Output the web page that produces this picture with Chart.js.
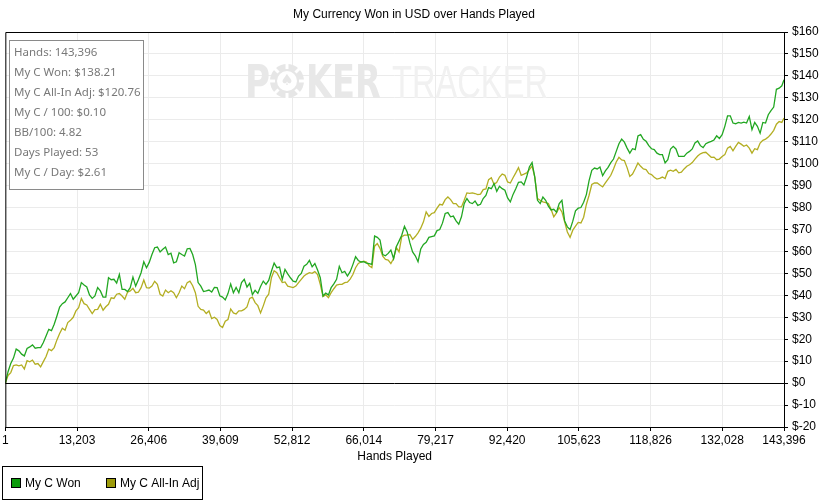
<!DOCTYPE html>
<html>
<head>
<meta charset="utf-8">
<script src="https://cdn.jsdelivr.net/npm/chart.js@4"></script>
<style>
  body { margin: 0; background: #fff; }
  #wrap { width: 828px; height: 503px; }
</style>
</head>
<body>
<div id="wrap"><canvas id="graph" width="828" height="503"></canvas></div>
<script>
// values, one sample every 500 hands (last = final hand)
const myCWon = [
  0, 5.2, 8.9, 11.4, 15.5, 14.7, 13.2, 12.4, 15.8, 16.5,
  17.4, 15.9, 16.2, 16.2, 18.5, 21.5, 24.5, 23.9, 26.8, 30.6,
  34.7, 36.2, 37, 38.9, 40.8, 38.2, 39.7, 41.2, 45.8, 44.7,
  43.8, 40.2, 38.6, 39.7, 43.5, 42, 39.2, 39.2, 48, 47.1,
  47.3, 45.6, 49.5, 42.7, 42.7, 41.7, 43.5, 48.3, 44.2, 47.1,
  50.3, 55.3, 52.6, 55, 58.6, 61.7, 62, 59.8, 61, 62,
  58.6, 59.2, 54.8, 55.3, 59.4, 58.6, 57.9, 61.2, 61.4, 58.6,
  54, 45.8, 44.2, 41.7, 42, 42.4, 41.5, 43.6, 43.5, 39.8,
  39.2, 37.9, 40.8, 45.2, 41.2, 43.6, 41.2, 45.8, 47.3, 43.8,
  45.5, 40.3, 42.3, 40.9, 44, 46.5, 45, 46.8, 51, 54.7,
  52.6, 52.9, 47.3, 51.8, 49.8, 48, 46.5, 46.1, 48.8, 50,
  53.3, 54.1, 55.9, 53, 54.5, 51.5, 48, 39.7, 41, 40.2,
  43.5, 45.2, 47.3, 53.2, 50.3, 50.9, 48.8, 50.8, 54, 57.6,
  55.9, 55.2, 55.3, 54.7, 54.4, 54.1, 67, 66.4, 65.2, 58.6,
  58, 59.1, 60.6, 56.7, 62.1, 64.7, 67.4, 71.5, 68.9, 63.9,
  59.8, 58, 55.3, 61.1, 63.2, 64.2, 66.4, 66.8, 67.1, 69.5,
  70, 72.9, 77.3, 77.7, 75.8, 76.1, 73.9, 72.4, 75.8, 81.8,
  84.1, 82.3, 81.8, 83, 81, 81.5, 84.1, 85.5, 89.1, 88.6,
  90.9, 87.4, 89.7, 88.6, 87.9, 84.4, 82.6, 86, 88.6, 91.5,
  91.7, 90.3, 93.9, 98.5, 100.5, 93.9, 83.3, 81.8, 84.8, 83.3,
  80.6, 78.9, 79.2, 77.9, 81.8, 83.3, 73.9, 71.2, 70, 73.8,
  78.5, 79.7, 80, 82.4, 85.9, 92.3, 97, 98, 97.6, 98.5,
  94.5, 96.7, 98.3, 100.5, 102.1, 105.6, 109.1, 111.2, 109.8, 107.1,
  104.8, 106.8, 106.4, 112.6, 113.2, 111.1, 110.2, 108.2, 106.8, 106.4,
  104.8, 104.1, 104.1, 100.3, 101.8, 106.7, 107.9, 106.7, 103.3, 103.3,
  103.3, 104.8, 105.6, 106.7, 109.4, 110.3, 108.2, 107.3, 109.1, 109.7,
  110.2, 110.8, 112.7, 111.5, 113.2, 117, 121.8, 121.8, 118.5, 118.2,
  118.8, 118.5, 118.9, 118.5, 121.5, 115.5, 118.8, 117, 113.9, 118.8,
  118.5, 122.3, 124.2, 125.8, 133.9, 134.4, 135.5, 138.21
];
const myCAllInAdj = [
  0, 3.5, 4.8, 8, 8.3, 7.9, 8.3, 6.4, 10.2, 9.7,
  10.5, 8.6, 8.9, 7.4, 9.8, 12.1, 15.5, 14.8, 16.2, 19.7,
  22.6, 25, 24.1, 27.6, 28.6, 30, 32.9, 34.4, 38.6, 36.2,
  35.6, 33.6, 31.7, 33.5, 33.6, 35.9, 33.2, 34.8, 35.9, 38.9,
  38.6, 40.5, 40.8, 39.7, 38.2, 41.4, 42, 43.2, 41.2, 41.4,
  43.5, 47, 43.5, 43.3, 44.2, 46.4, 45, 40.5, 39.7, 42.4,
  41.2, 42.1, 41.2, 38.9, 41.2, 44.2, 43, 45.8, 46.5, 44.4,
  41.2, 35, 33.6, 33.3, 31.7, 32.9, 29.4, 30, 29, 26.2,
  25.3, 28.2, 29, 33.8, 32, 31.5, 32.9, 32.9, 33.6, 34.7,
  38.6, 39.2, 36.7, 35.3, 32, 35.2, 38.9, 40.5, 48, 51.2,
  50.3, 48, 45.8, 46.1, 44.2, 43.9, 43.5, 44.2, 45.8, 47.3,
  48.8, 49.7, 50.3, 50, 50.8, 49.5, 45, 39.5, 40.2, 38.9,
  41.2, 43, 44.7, 45, 45, 45.8, 46, 47.4, 49.5, 52.6,
  54.5, 55.2, 55.6, 55.2, 53.5, 52.6, 62.4, 63.6, 61.4, 57.9,
  56.4, 56.1, 54.5, 56.8, 61.8, 59.8, 66.7, 67.4, 67.4, 67.7,
  65.5, 66.8, 68.5, 70.6, 73.5, 78, 76, 77.3, 77.7, 79.7,
  81.5, 81.2, 83.6, 84.8, 83.6, 81.8, 81.8, 80.3, 80.3, 83.3,
  86.7, 86.5, 86.7, 86.4, 85.9, 86.1, 88.2, 88.5, 92.7, 93.6,
  90.5, 91.5, 93.9, 95.3, 94.7, 91.7, 91.2, 93.6, 95.8, 98.2,
  94.7, 95.2, 95.8, 97.3, 98.9, 93.9, 84.1, 83.3, 82.6, 82.3,
  81.8, 79.2, 75.8, 77.6, 80, 78, 73.5, 68.9, 66.4, 69.7,
  71.5, 73.2, 73, 75.6, 81.4, 85.6, 90.5, 91.2, 91.2, 90.3,
  89.4, 91.2, 93, 94.7, 97.6, 100.8, 102.9, 101.7, 101.4, 98.2,
  94.2, 95.3, 97.7, 100.3, 98.8, 97.6, 97.3, 95.5, 95, 93.8,
  93, 93.3, 93.9, 93.2, 96.5, 97, 96.5, 97.4, 95.8, 96.1,
  97.6, 98.8, 99.5, 100.5, 102.1, 103.5, 104.5, 105, 105.2, 104.1,
  102.9, 103, 101.8, 102.1, 103.3, 104.1, 107.1, 107.9, 105.9, 107.9,
  109.7, 108.9, 107.9, 108.5, 107.1, 104.8, 106.8, 106.4, 109.4, 110.6,
  111.2, 112.1, 113.5, 115.2, 118, 119.2, 118.8, 120.76
];
const totalHands = 143396;
const sampleStep = 500;
const hands = myCWon.map((_, i) => i === myCWon.length - 1 ? totalHands : Math.max(1, i * sampleStep));

const xTicks = [1, 13203, 26406, 39609, 52812, 66014, 79217, 92420, 105623, 118826, 132028, 143396];
const yMin = -20, yMax = 160, yStep = 10;

const seriesNames = ['My C Won', 'My C All-In Adj'];
const lineColors = ['#22a722', '#b3ae22'];
const legendColors = ['#0b9b0b', '#9d9b0b'];

const statsLines = [
  'Hands: 143,396',
  'My C Won: $138.21',
  'My C All-In Adj: $120.76',
  'My C / 100: $0.10',
  'BB/100: 4.82',
  'Days Played: 53',
  'My C / Day: $2.61'
];

const FONT = '"Liberation Sans", Arial, sans-serif';
Chart.defaults.font.family = FONT;
Chart.defaults.font.size = 12;
Chart.defaults.color = '#000';

// watermark behind the lines
const watermark = {
  id: 'watermark',
  beforeDatasetsDraw(chart) {
    const c = chart.ctx;
    c.save();
    const base = 98;
    function stretch(text, x, w, font, color) {
      c.font = font;
      c.fillStyle = color;
      const m = c.measureText(text).width;
      c.save();
      c.translate(x, base);
      c.scale(w / m, 1);
      c.fillText(text, 0, 0);
      c.restore();
    }
    c.textBaseline = 'alphabetic';
    stretch('P', 245, 25, 'bold 47px "DejaVu Sans"', '#e8e8e8');
    // chip
    c.beginPath();
    c.arc(287, 81, 17, 0, Math.PI * 2);
    c.fillStyle = '#e6e6e6';
    c.fill();
    c.strokeStyle = '#fff';
    c.lineWidth = 3;
    for (let i = 0; i < 8; i++) {
      const a = i * Math.PI / 4;
      c.beginPath();
      c.moveTo(287 + Math.cos(a) * 12, 81 + Math.sin(a) * 12);
      c.lineTo(287 + Math.cos(a) * 18, 81 + Math.sin(a) * 18);
      c.stroke();
    }
    c.beginPath();
    c.arc(287, 81, 10, 0, Math.PI * 2);
    c.fillStyle = '#fff';
    c.fill();
    c.font = '15px "DejaVu Sans"';
    c.fillStyle = '#e6e6e6';
    c.textAlign = 'center';
    c.textBaseline = 'middle';
    c.fillText('\u2660', 287, 81);
    c.textAlign = 'left';
    c.textBaseline = 'alphabetic';
    stretch('KER', 306, 75, 'bold 47px "DejaVu Sans"', '#e8e8e8');
    stretch('TRACKER', 392, 156, '47px "Liberation Sans"', '#f1f1f1');
    c.restore();
  }
};

const extras = {
  id: 'extras',
  afterDraw(chart) {
    const c = chart.ctx;
    const a = chart.chartArea;
    c.save();
    // top / left border of the plot
    c.strokeStyle = '#000';
    c.lineWidth = 1;
    c.beginPath();
    c.moveTo(a.left + 0.5, a.bottom);
    c.lineTo(a.left + 0.5, a.top + 0.5);
    c.lineTo(a.right, a.top + 0.5);
    c.stroke();

    // title
    c.fillStyle = '#000';
    c.font = '12px ' + FONT;
    c.textAlign = 'center';
    c.textBaseline = 'middle';
    c.fillText('My Currency Won in USD over Hands Played', 414, 15);
    c.fillText('Hands Played', (a.left + a.right) / 2, 457);

    // stats box
    c.fillStyle = '#fff';
    c.fillRect(9.5, 40.5, 134, 149);
    c.strokeStyle = '#8a8a8a';
    c.strokeRect(9.5, 40.5, 134, 149);
    c.fillStyle = '#787878';
    c.font = '11.5px "Noto Sans", "Open Sans", sans-serif';
    c.textAlign = 'left';
    statsLines.forEach((t, i) => c.fillText(t, 14, 53 + i * 20));

    // legend
    c.strokeStyle = '#000';
    c.strokeRect(2.5, 466.5, 200, 33);
    c.font = '12px ' + FONT;
    const lx = [11, 106];
    seriesNames.forEach((name, i) => {
      c.fillStyle = legendColors[i];
      c.fillRect(lx[i] + 0.5, 478.5, 9, 9);
      c.strokeStyle = '#000';
      c.strokeRect(lx[i] + 0.5, 478.5, 9, 9);
      c.fillStyle = '#000';
      c.fillText(name, lx[i] + 14, 483.5);
    });
    c.restore();
  }
};

const ctx = document.getElementById('graph').getContext('2d');
const graph = new Chart(ctx, {
  type: 'line',
  data: {
    labels: hands,
    datasets: [
      { label: seriesNames[0], data: myCWon, borderColor: lineColors[0], borderWidth: 1.3, pointRadius: 0, tension: 0 },
      { label: seriesNames[1], data: myCAllInAdj, borderColor: lineColors[1], borderWidth: 1.3, pointRadius: 0, tension: 0 }
    ]
  },
  options: {
    responsive: false,
    animation: false,
    devicePixelRatio: 1,
    layout: { padding: { left: 3, top: 32, right: 0, bottom: 0 } },
    plugins: { legend: { display: false }, tooltip: { enabled: false }, title: { display: false } },
    scales: {
      x: {
        type: 'linear',
        min: 1,
        max: totalHands,
        afterBuildTicks: s => { s.ticks = xTicks.map(v => ({ value: v })); },
        afterFit: s => { s.height = 76; },
        ticks: {
          autoSkip: false,
          maxRotation: 0,
          padding: 2,
          callback: v => v.toLocaleString('en-US')
        },
        grid: { color: '#ebebeb', tickColor: '#000', tickLength: 4 },
        border: { color: '#000', width: 1 }
      },
      y: {
        position: 'right',
        min: yMin,
        max: yMax,
        afterFit: s => { s.width = 44; },
        ticks: {
          stepSize: yStep,
          padding: 4,
          callback: v => '$' + v
        },
        grid: {
          color: c => c.tick && c.tick.value === 0 ? '#000' : '#ebebeb',
          tickColor: '#000',
          tickLength: 4
        },
        border: { color: '#000', width: 1 }
      }
    }
  },
  plugins: [watermark, extras]
});
</script>
</body>
</html>
